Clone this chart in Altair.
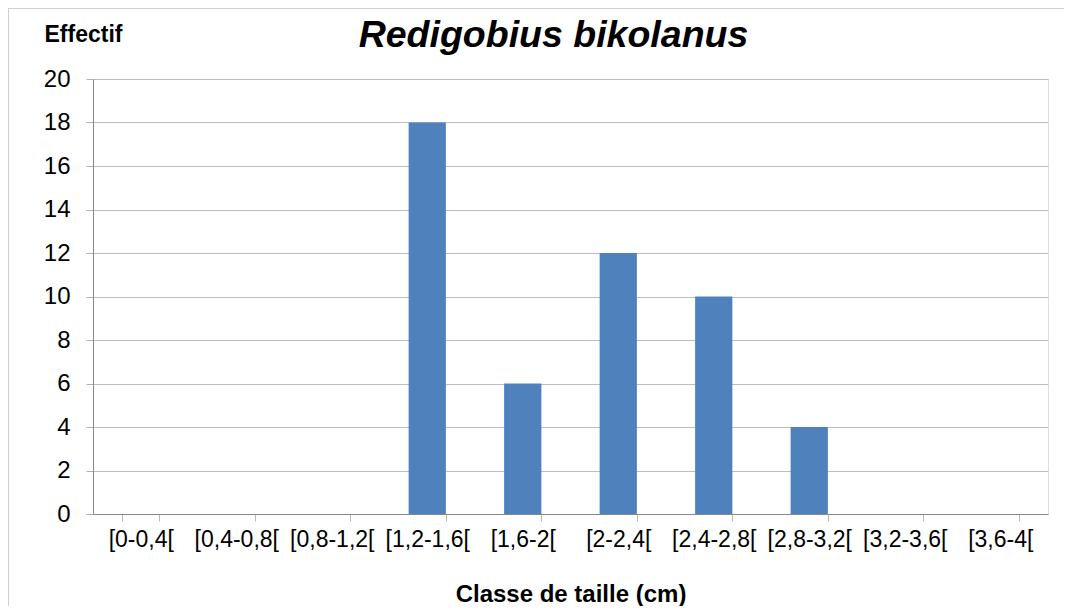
import altair as alt
import pandas as pd

classes = ["[0-0,4[", "[0,4-0,8[", "[0,8-1,2[", "[1,2-1,6[", "[1,6-2[",
           "[2-2,4[", "[2,4-2,8[", "[2,8-3,2[", "[3,2-3,6[", "[3,6-4["]
effectifs = [0, 0, 0, 18, 6, 12, 10, 4, 0, 0]
title_text = ["Redigobius bikolanus"]

df = pd.DataFrame({"classe": classes, "effectif": effectifs})
tdf = pd.DataFrame({"t": title_text})

W, H = 955, 435
FONT = "Liberation Sans"

bars = alt.Chart(df).mark_bar(color="#4F81BD").encode(
    x=alt.X("classe:N", sort=classes,
            scale=alt.Scale(paddingInner=0.61, paddingOuter=0.305),
            axis=alt.Axis(title="Classe de taille (cm)", labelAngle=0,
                          tickBand="extent", tickSize=7, tickColor="#b8b8b8",
                          domainColor="#888888", labelFontSize=23,
                          labelColor="#000000", labelPadding=7, labelFont=FONT,
                          titleFont=FONT, titleFontSize=24, titleFontWeight="bold",
                          titleColor="#000000", titleBaseline="alphabetic",
                          titleY=87, titleX=W / 2, grid=False)),
    y=alt.Y("effectif:Q",
            scale=alt.Scale(domain=[0, 20]),
            axis=alt.Axis(title="Effectif", values=list(range(0, 21, 2)),
                          tickSize=7, tickColor="#b0b0b0", domainColor="#888888",
                          labelFontSize=24, labelColor="#000000", labelPadding=16,
                          labelFont=FONT, gridColor="#bdbdbd", gridWidth=1,
                          titleAngle=0, titleAlign="left", titleBaseline="alphabetic",
                          titleX=-49, titleY=-38, titleFont=FONT, titleFontSize=23,
                          titleFontWeight="bold", titleColor="#000000")),
)

title = alt.Chart(tdf).mark_text(
    font=FONT, fontSize=37.5, fontWeight="bold", fontStyle="italic",
    color="#000000", align="center", baseline="alphabetic", clip=False
).encode(x=alt.value(W / 2 - 17), y=alt.value(-32), text="t:N")

border_top = alt.Chart(df).mark_rule(color="#cfcfcf", strokeWidth=1.5, clip=False).encode(
    x=alt.value(-85), x2=alt.value(W + 30), y=alt.value(-71)
)
border_left = alt.Chart(df).mark_rule(color="#cfcfcf", strokeWidth=1.5, clip=False).encode(
    x=alt.value(-85), y=alt.value(-71), y2=alt.value(H + 110)
)

chart = alt.layer(bars, title, border_top, border_left).properties(
    width=W, height=H,
    autosize=alt.AutoSizeParams(type="none"),
    padding={"left": 85, "top": 71, "right": 16, "bottom": 92},
).configure_view(stroke=None).configure(background="white")

chart.save("out.html", embed_options={"renderer": "svg", "actions": False})
